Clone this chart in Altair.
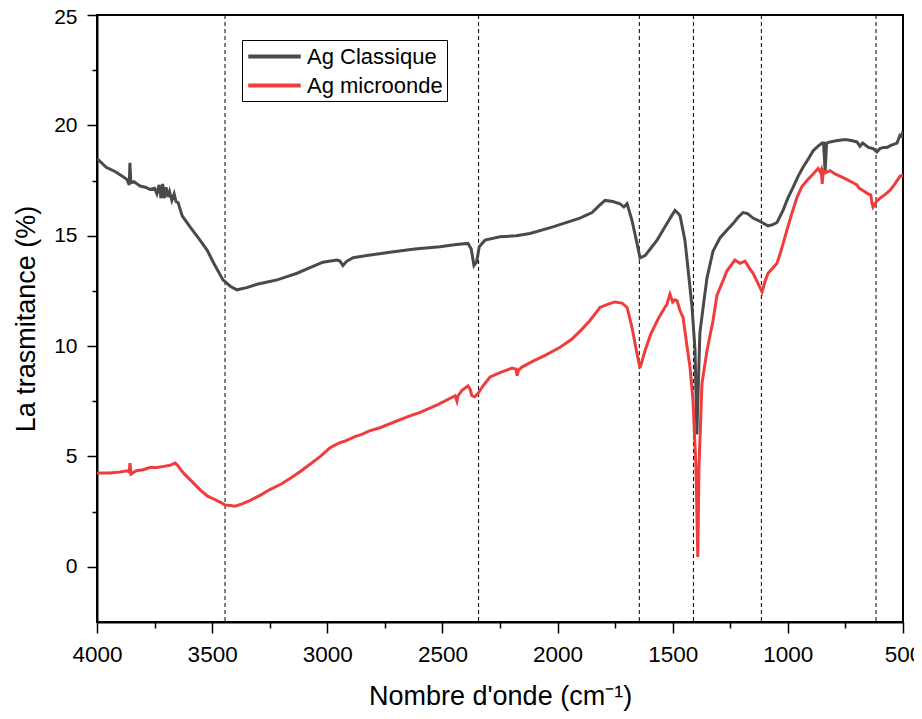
import altair as alt
import pandas as pd

# ---------------- data ----------------
series_names = ["Ag Classique", "Ag microonde"]
series_colors = ["#4a4a4a", "#ef3d3d"]

classique_wn = [4000, 3960, 3920, 3890, 3870, 3860, 3857, 3853, 3840, 3813, 3790, 3770, 3750,
                3740, 3730, 3722, 3715, 3708, 3700, 3692, 3685, 3675, 3665, 3657, 3648, 3630,
                3596, 3560, 3522, 3490, 3453, 3420, 3392, 3350, 3305, 3260, 3218, 3175, 3131,
                3075, 3019, 2958, 2945, 2932, 2915, 2888, 2828, 2728, 2620, 2511, 2440, 2389,
                2375, 2363, 2352, 2340, 2315, 2250, 2180, 2120, 2020, 1903, 1850, 1816, 1794,
                1760, 1729, 1712, 1698, 1677, 1655, 1642, 1620, 1590, 1568, 1545, 1525, 1505,
                1490, 1475, 1468, 1447, 1434, 1416, 1403, 1395, 1388, 1382, 1365, 1351, 1325,
                1295, 1265, 1238, 1215, 1195, 1175, 1151, 1130, 1112, 1086, 1065, 1047, 1021,
                1000, 977, 955, 934, 910, 890, 870, 851, 845, 838, 832, 817, 790, 760, 743, 720,
                700, 687, 675, 650, 630, 613, 600, 585, 570, 550, 526, 513, 505, 500]
classique_t = [18.5, 18.1, 17.9, 17.7, 17.55, 17.3, 18.3, 17.4, 17.45, 17.25, 17.2, 17.1, 17.15,
               16.9, 17.3, 16.7, 17.35, 16.7, 17.2, 16.75, 17.0, 16.6, 16.9, 16.55, 16.5, 15.9,
               15.4, 14.9, 14.35, 13.7, 13.0, 12.7, 12.55, 12.65, 12.8, 12.9, 13.0, 13.15, 13.3,
               13.55, 13.8, 13.9, 13.85, 13.65, 13.85, 14.0, 14.1, 14.25, 14.4, 14.5, 14.6, 14.65,
               14.4, 13.65, 13.8, 14.5, 14.8, 14.95, 15.0, 15.1, 15.4, 15.8, 16.05, 16.4, 16.6,
               16.55, 16.45, 16.3, 16.45, 15.7, 14.65, 14.0, 14.1, 14.5, 14.8, 15.2, 15.55, 15.9,
               16.15, 16.0, 15.9, 14.8, 13.55, 11.75, 9.8, 6.0, 8.5, 10.6, 12.0, 13.1, 14.3,
               14.9, 15.25, 15.55, 15.85, 16.05, 16.0, 15.8, 15.7, 15.6, 15.45, 15.5, 15.6, 16.15,
               16.7, 17.2, 17.7, 18.1, 18.5, 18.85, 19.05, 19.2, 19.2, 17.9, 19.2, 19.25, 19.3, 19.35, 19.35, 19.3,
               19.25, 19.05, 19.2, 19.0, 18.95, 18.8, 18.95, 19.0, 19.0, 19.1, 19.2, 19.55, 19.5, 19.75]

microonde_wn = [4000, 3944, 3900, 3870, 3860, 3857, 3852, 3830, 3800, 3770, 3740, 3710, 3683,
                3661, 3650, 3640, 3620, 3596, 3553, 3520, 3488, 3460, 3444, 3420, 3401, 3370,
                3336, 3290, 3249, 3200, 3162, 3120, 3075, 3030, 2988, 2950, 2923, 2880, 2850,
                2820, 2771, 2700, 2650, 2597, 2520, 2445, 2437, 2432, 2415, 2389, 2380, 2372,
                2360, 2346, 2320, 2293, 2250, 2198, 2180, 2176, 2170, 2155, 2100, 2050, 1989,
                1940, 1900, 1860, 1816, 1780, 1751, 1720, 1698, 1677, 1655, 1642, 1620, 1595,
                1560, 1525, 1512, 1500, 1490, 1481, 1468, 1455, 1438, 1425, 1412, 1399, 1391,
                1386, 1373, 1351, 1325, 1308, 1280, 1265, 1230, 1208, 1186, 1165, 1151, 1130,
                1112, 1100, 1086, 1060, 1047, 1030, 1004, 980, 960, 940, 917, 890, 869, 860,
                855, 851, 846, 838, 817, 795, 774, 745, 717, 700, 690, 674, 652, 640, 635, 630,
                615, 600, 580, 557, 535, 513, 500]
microonde_t = [4.25, 4.25, 4.3, 4.35, 4.3, 4.7, 4.2, 4.35, 4.4, 4.5, 4.5, 4.55, 4.6,
               4.7, 4.6, 4.45, 4.2, 3.95, 3.5, 3.2, 3.05, 2.9, 2.8, 2.78, 2.75, 2.85,
               3.0, 3.25, 3.5, 3.75, 4.0, 4.3, 4.65, 5.0, 5.4, 5.6, 5.7, 5.9, 6.0,
               6.15, 6.3, 6.6, 6.8, 7.0, 7.35, 7.75, 7.5, 7.75, 8.0, 8.2, 8.05, 7.75,
               7.7, 7.85, 8.25, 8.6, 8.8, 9.0, 8.95, 8.65, 8.9, 9.05, 9.35, 9.6, 9.95,
               10.3, 10.7, 11.15, 11.75, 11.9, 12.0, 11.95, 11.75, 10.85, 9.65, 9.0, 9.8, 10.55,
               11.3, 11.9, 12.35, 12.0, 12.1, 12.05, 11.6, 11.3, 10.0, 9.05, 7.55, 4.5, 0.45,
               4.5, 8.3, 9.8, 11.15, 12.3, 13.0, 13.4, 13.9, 13.75, 13.85, 13.5, 13.3, 12.85,
               12.45, 12.9, 13.3, 13.6, 13.75, 14.3, 15.25, 16.1, 16.75, 17.2, 17.5, 17.8, 18.05, 17.9,
               18.0, 17.35, 17.95, 17.85, 17.95, 17.8, 17.7, 17.55, 17.4, 17.3, 17.15, 17.05, 16.9, 16.85, 16.5, 16.3,
               16.55, 16.7, 16.85, 17.05, 17.35, 17.7, 17.75]

band_positions = [3444, 2343, 1645, 1410, 1115, 617]

x_major = [4000, 3500, 3000, 2500, 2000, 1500, 1000, 500]
x_minor = [3750, 3250, 2750, 2250, 1750, 1250, 750]
y_major = [0, 5, 10, 15, 20, 25]
y_minor = [2.5, 7.5, 12.5, 17.5, 22.5]

x_domain = [500, 4000]
y_domain = [-2.5, 25]

# ---------------- build tables ----------------
df = pd.concat([
    pd.DataFrame({"wn": classique_wn, "t": classique_t, "serie": series_names[0], "order": 0}),
    pd.DataFrame({"wn": microonde_wn, "t": microonde_t, "serie": series_names[1], "order": 1}),
], ignore_index=True)
bands = pd.DataFrame({"wn": band_positions})

FONT = "Liberation Sans"

x_scale = alt.Scale(domain=x_domain, reverse=True, nice=False, zero=False)
y_scale = alt.Scale(domain=y_domain, nice=False, zero=False)

main_x_axis = alt.Axis(values=x_major, format="d", title="Nombre d'onde (cm⁻¹)", orient="bottom",
                       tickSize=11, tickWidth=1.5, labelPadding=10, titlePadding=18,
                       labelFontSize=22.5, titleFontSize=27, labelFont=FONT, titleFont=FONT,
                       titleFontWeight="normal", domainWidth=2, domainColor="black",
                       tickColor="black", labelColor="black", titleColor="black", grid=False,
                       labelFlush=False)
main_y_axis = alt.Axis(values=y_major, format="d", title="La trasmitance (%)", orient="left",
                       tickSize=10, tickWidth=1.5, labelPadding=10, titlePadding=13,
                       labelFontSize=21, titleFontSize=27, labelFont=FONT, titleFont=FONT,
                       titleFontWeight="normal", domainWidth=2, domainColor="black",
                       tickColor="black", labelColor="black", titleColor="black", grid=False,
                       labelOffset={"condition": {"test": "datum.value === 25", "value": 2},
                                    "value": 0})
minor_x_axis = alt.Axis(values=x_minor, labels=False, title=None, orient="bottom", tickSize=6,
                        tickWidth=1.5, tickColor="black", domain=False, grid=False)
minor_y_axis = alt.Axis(values=y_minor, labels=False, title=None, orient="left", tickSize=5,
                        tickWidth=1.5, tickColor="black", domain=False, grid=False)

legend = alt.Legend(title=None, orient="none", legendX=145, legendY=25,
                    symbolType="M-2.5,0L2.5,0", symbolSize=441, symbolStrokeWidth=4,
                    symbolOffset=16, labelOffset=20,
                    labelFontSize=22, labelFont=FONT, labelColor="black",
                    labelExpr="datum.label + '\u00a0\u00a0\u00a0'",
                    strokeColor="black", padding=4, rowPadding=5, fillColor="white")

lines = alt.Chart(df).mark_line(strokeWidth=3, clip=True).encode(
    x=alt.X("wn:Q", scale=x_scale, axis=main_x_axis),
    y=alt.Y("t:Q", scale=y_scale, axis=main_y_axis),
    color=alt.Color("serie:N",
                    scale=alt.Scale(domain=series_names, range=series_colors),
                    legend=legend),
    detail="serie:N",
    order="order:Q",
)

rules = alt.Chart(bands).mark_rule(color="black", strokeWidth=1, strokeDash=[4, 3]).encode(
    x=alt.X("wn:Q", scale=x_scale, axis=minor_x_axis),
)

ghost = alt.Chart(df).mark_point(opacity=0).encode(
    x=alt.X("wn:Q", scale=x_scale, axis=None),
    y=alt.Y("t:Q", scale=y_scale, axis=minor_y_axis),
)

chart = alt.layer(rules, lines, ghost).resolve_axis(x="independent", y="independent").properties(
    width=806, height=607,
    autosize=alt.AutoSizeParams(type="none"),
    padding={"left": 89, "top": 7, "right": 11, "bottom": 95},
).configure_view(stroke="black", strokeWidth=2)

chart.save("out.html", embed_options={"renderer": "svg", "actions": False})
